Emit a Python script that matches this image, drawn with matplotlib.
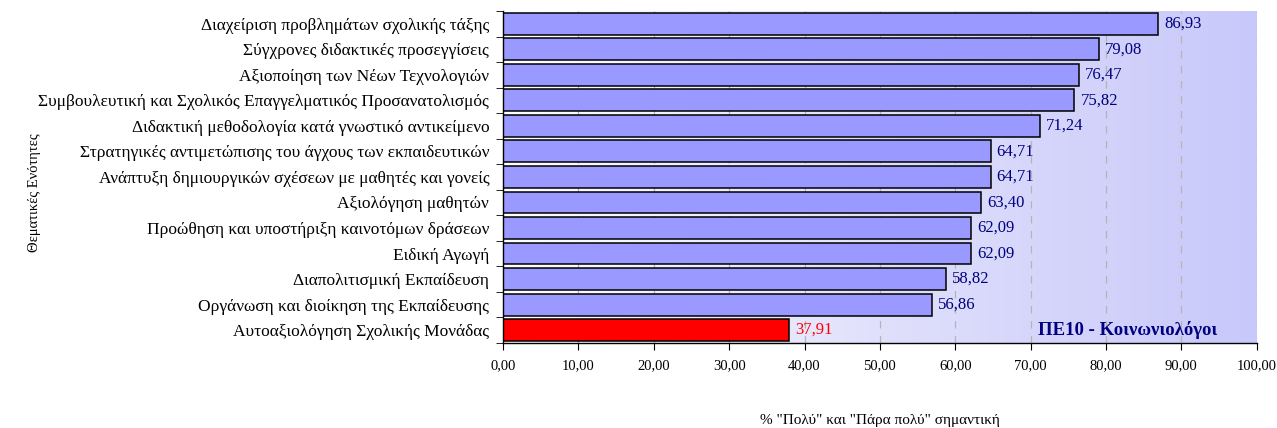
import matplotlib.pyplot as plt
import numpy as np
from matplotlib.colors import LinearSegmentedColormap

plt.rcParams["font.family"] = ["Liberation Serif", "DejaVu Serif"]

categories = [
    "Διαχείριση προβλημάτων σχολικής τάξης",
    "Σύγχρονες διδακτικές προσεγγίσεις",
    "Αξιοποίηση των Νέων Τεχνολογιών",
    "Συμβουλευτική και Σχολικός Επαγγελματικός Προσανατολισμός",
    "Διδακτική μεθοδολογία κατά γνωστικό αντικείμενο",
    "Στρατηγικές αντιμετώπισης του άγχους των εκπαιδευτικών",
    "Ανάπτυξη δημιουργικών σχέσεων με μαθητές και γονείς",
    "Αξιολόγηση μαθητών",
    "Προώθηση και υποστήριξη καινοτόμων δράσεων",
    "Ειδική Αγωγή",
    "Διαπολιτισμική Εκπαίδευση",
    "Οργάνωση και διοίκηση της Εκπαίδευσης",
    "Αυτοαξιολόγηση Σχολικής Μονάδας",
]
values = [86.93, 79.08, 76.47, 75.82, 71.24, 64.71, 64.71, 63.40, 62.09, 62.09, 58.82, 56.86, 37.91]
xticks = [0, 10, 20, 30, 40, 50, 60, 70, 80, 90, 100]

def fmt(v):
    return f"{v:.2f}".replace(".", ",")

fig = plt.figure(figsize=(12.77, 4.28), dpi=100)
ax = fig.add_axes([0.394, 0.199, 0.590, 0.775])

n = len(categories)
ypos = np.arange(n)[::-1]

# φόντο με διαβάθμιση
cmap = LinearSegmentedColormap.from_list("bg", ["#ffffff", "#e0e0fc", "#c8c8fa"])
grad = np.linspace(0, 1, 256).reshape(1, -1)
ax.imshow(grad, cmap=cmap, aspect="auto", extent=[0, 100, -0.5, n - 0.5], zorder=0)

for x in xticks[1:]:
    ax.axvline(x, color="#b4b4b4", linestyle=(0, (6, 6)), linewidth=0.9, zorder=1)

colors = ["#9999ff"] * (n - 1) + ["#ff0000"]
ax.barh(ypos, values, height=0.86, color=colors, edgecolor="black", linewidth=1.1, zorder=2)

for y, v, c in zip(ypos, values, colors):
    tc = "#ff0000" if c == "#ff0000" else "#000080"
    ax.text(v + 0.8, y, fmt(v), va="center", ha="left", fontsize=12, color=tc, zorder=3)

ax.text(71.0, 0, "ΠΕ10 - Κοινωνιολόγοι", va="center", ha="left", fontsize=13.5,
        fontweight="bold", color="#000080", zorder=3)

ax.set_xlim(0, 100)
ax.set_ylim(-0.5, n - 0.5)
ax.set_xticks(xticks)
ax.set_xticklabels([fmt(x) for x in xticks], fontsize=10.5)
ax.set_yticks(ypos)
ax.set_yticklabels(categories, fontsize=12.5)
ax.set_yticks(np.arange(-0.5, n, 1), minor=True)
ax.tick_params(axis="y", which="major", length=0, pad=10)
ax.tick_params(axis="y", which="minor", length=5, direction="out")
ax.tick_params(axis="x", length=5, direction="out", pad=7)

for s in ["top", "right"]:
    ax.spines[s].set_visible(False)
ax.spines["left"].set_linewidth(1.0)
ax.spines["bottom"].set_linewidth(1.0)

ax.set_xlabel('% "Πολύ" και "Πάρα πολύ" σημαντική', fontsize=11, labelpad=30)
fig.text(0.027, 0.55, "Θεματικές Ενότητες", rotation=90, va="center", ha="center", fontsize=10.5)

fig.savefig("out.png", dpi=100)
